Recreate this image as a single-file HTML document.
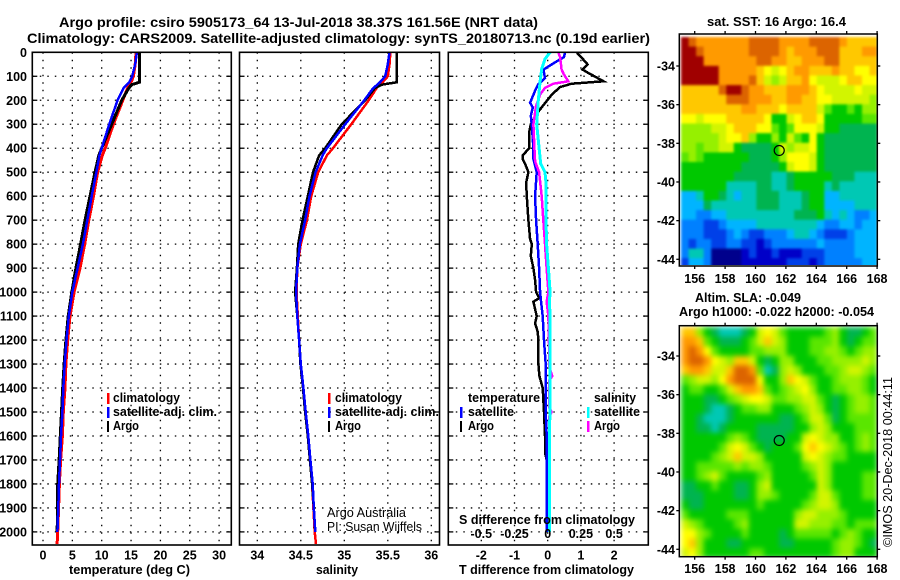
<!DOCTYPE html>
<html lang="en">
<head>
<meta charset="utf-8">
<title>Argo profile chart</title>
<style>
html,body{margin:0;padding:0;background:#fff;width:900px;height:580px;overflow:hidden}
svg{display:block}
text{font-family:"Liberation Sans",sans-serif;font-weight:bold;font-size:12.5px;fill:#000}
.t{font-size:14px}
.thin{font-weight:normal;font-size:12.5px}
</style>
</head>
<body>
<svg id="chart" xmlns="http://www.w3.org/2000/svg" width="900" height="580" viewBox="0 0 900 580">
  <defs>
    <filter id="soft-sst" filterUnits="userSpaceOnUse" x="670" y="25" width="220" height="250" color-interpolation-filters="sRGB">
      <feGaussianBlur stdDeviation="1.2" edgeMode="duplicate"/>
    </filter>
    <filter id="soft-sla" filterUnits="userSpaceOnUse" x="670" y="315" width="220" height="250" color-interpolation-filters="sRGB">
      <feGaussianBlur stdDeviation="2.6" edgeMode="duplicate"/>
    </filter>
    <clipPath id="clip-sst"><rect x="680" y="35" width="197" height="230"/></clipPath>
    <clipPath id="clip-sla"><rect x="680" y="326.5" width="197" height="229.5"/></clipPath>
  </defs>
  <rect x="0" y="0" width="900" height="580" fill="#fff"/>
  <text class="t" x="59" y="27" textLength="479" lengthAdjust="spacingAndGlyphs">Argo profile: csiro 5905173_64 13-Jul-2018 38.37S 161.56E (NRT data)</text>
  <text class="t" x="27" y="43" textLength="623" lengthAdjust="spacingAndGlyphs">Climatology: CARS2009. Satellite-adjusted climatology: synTS_20180713.nc (0.19d earlier)</text>

  <g id="layer-maps"></g>
  <g id="layer-panels"></g>

  <text x="69" y="574" textLength="121" lengthAdjust="spacingAndGlyphs">temperature (deg C)</text>
  <text x="316" y="574" textLength="42" lengthAdjust="spacingAndGlyphs">salinity</text>
  <text x="459" y="574" textLength="175" lengthAdjust="spacingAndGlyphs">T difference from climatology</text>
  <text x="459" y="524" textLength="176" lengthAdjust="spacingAndGlyphs">S difference from climatology</text>

  <g>
    <rect x="107" y="393" width="2.5" height="11" fill="#ff0000"/>
    <text x="113" y="402" textLength="67" lengthAdjust="spacingAndGlyphs">climatology</text>
    <rect x="107" y="407" width="2.5" height="11" fill="#0000ff"/>
    <text x="113" y="416" textLength="104" lengthAdjust="spacingAndGlyphs">satellite-adj. clim.</text>
    <rect x="107" y="421" width="2" height="11" fill="#000"/>
    <text x="113" y="430" textLength="26" lengthAdjust="spacingAndGlyphs">Argo</text>
  </g>
  <g>
    <rect x="328" y="393" width="2.5" height="11" fill="#ff0000"/>
    <text x="335" y="402" textLength="67" lengthAdjust="spacingAndGlyphs">climatology</text>
    <rect x="328" y="407" width="2.5" height="11" fill="#0000ff"/>
    <text x="335" y="416" textLength="104" lengthAdjust="spacingAndGlyphs">satellite-adj. clim.</text>
    <rect x="328" y="421" width="2" height="11" fill="#000"/>
    <text x="335" y="430" textLength="26" lengthAdjust="spacingAndGlyphs">Argo</text>
  </g>
  <text class="thin" x="327" y="517" textLength="79" lengthAdjust="spacingAndGlyphs">Argo Australia</text>
  <text class="thin" x="327" y="531" textLength="95" lengthAdjust="spacingAndGlyphs">PI: Susan Wijffels</text>
  <g>
    <text x="468" y="402" textLength="72" lengthAdjust="spacingAndGlyphs">temperature</text>
    <rect x="460" y="407" width="2.5" height="11" fill="#0000ff"/>
    <text x="468" y="416" textLength="46" lengthAdjust="spacingAndGlyphs">satellite</text>
    <rect x="460" y="421" width="2" height="11" fill="#000"/>
    <text x="468" y="430" textLength="26" lengthAdjust="spacingAndGlyphs">Argo</text>
    <text x="594" y="402" textLength="42" lengthAdjust="spacingAndGlyphs">salinity</text>
    <rect x="587" y="407" width="2.5" height="11" fill="#00ffff"/>
    <text x="594" y="416" textLength="46" lengthAdjust="spacingAndGlyphs">satellite</text>
    <rect x="587" y="421" width="2.5" height="11" fill="#ff00ff"/>
    <text x="594" y="430" textLength="26" lengthAdjust="spacingAndGlyphs">Argo</text>
  </g>

  <text x="707" y="26" textLength="139" lengthAdjust="spacingAndGlyphs">sat. SST: 16 Argo: 16.4</text>
  <text x="695" y="302" textLength="106" lengthAdjust="spacingAndGlyphs">Altim. SLA: -0.049</text>
  <text x="679" y="316" textLength="195" lengthAdjust="spacingAndGlyphs">Argo h1000: -0.022 h2000: -0.054</text>
  <text class="thin" transform="translate(892,547) rotate(-90)" x="0" y="0" textLength="170" lengthAdjust="spacingAndGlyphs">©IMOS 20-Dec-2018 00:44:11</text>
</svg>

<script>
/* ---------- profile data ---------- */
var depthLevels = [0,50,100,125,135,150,200,300,400,430,500,600,700,800,900,1000,1100,1200,1300,1400,1500,1600,1700,1800,1900,2000,2050];
var tempClimatology = [15.85,15.7,15.4,15.0,14.8,14.4,13.6,12,10.6,10.1,9.3,8.6,7.8,7.1,6.3,5.3,4.6,4.2,3.9,3.75,3.45,3.3,3.0,2.8,2.65,2.5,2.4];
var tempSatellite = [16.0,15.7,15.2,14.7,14.3,13.7,12.7,11.3,10,9.6,9.1,8.3,7.55,6.8,5.9,5.0,4.4,4.0,3.7,3.46,3.3,3.07,2.9,2.73,2.6,2.45];
var tempArgo = [16.4,16.4,16.4,16.4,15.1,14.6,13.4,11.7,10.0,9.5,8.86,8.0,7.15,6.4,5.6,4.9,4.3,3.9,3.6,3.35,3.15,2.95,2.75,2.5,2.5,2.4];
var salClimatology = [35.53,35.52,35.5,35.44,35.4,35.37,35.28,35.08,34.87,34.8,34.7,34.62,34.57,34.5,34.46,34.45,34.465,34.48,34.5,34.525,34.55,34.58,34.605,34.63,34.645,34.66,34.675];
var salSatellite = [35.52,35.5,35.47,35.41,35.38,35.33,35.23,35.01,34.8,34.75,34.67,34.6,34.55,34.49,34.46,34.445,34.46,34.48,34.5,34.53,34.556,34.586,34.61,34.637,34.65,34.667];
var salArgo = [35.6,35.6,35.6,35.6,35.43,35.35,35.24,34.97,34.78,34.71,34.64,34.58,34.52,34.47,34.455,34.435,34.46,34.48,34.495,34.525,34.55,34.58,34.605,34.63,34.65,34.665];

var diffTArgoDepth = [0,14,50,72,86,121,131,145,177,212,247,283,300,335,400,430,445,465,500,545,600,700,780,800,850,900,950,1000,1025,1040,1100,1130,1165,1200,1300,1350,1400,1500,1600,1670,1730,2000];
var diffTArgo = [0.87,0.97,1.2,1.05,1.22,1.68,0.72,0.37,0.12,-0.08,-0.28,-0.43,-0.51,-0.56,-0.55,-0.76,-0.76,-0.68,-0.58,-0.65,-0.63,-0.58,-0.53,-0.48,-0.51,-0.43,-0.38,-0.35,-0.25,-0.43,-0.33,-0.38,-0.3,-0.28,-0.28,-0.25,-0.15,-0.11,-0.08,-0.08,0.02,0];
var diffTSatDepth = [0,20,42,72,107,133,160,210,230,265,300,400,445,500,600,700,800,900,1000,1040,1100,1200,1300,1400,1500,1600,2000];
var diffTSat = [0.52,0.49,0.22,-0.13,-0.08,-0.28,-0.38,-0.53,-0.45,-0.51,-0.48,-0.43,-0.43,-0.33,-0.38,-0.35,-0.3,-0.26,-0.23,-0.2,-0.15,-0.11,-0.06,-0.05,-0.06,-0.03,-0.03];
var diffSArgoDepth = [0,20,72,93,121,131,148,177,225,300,400,455,500,600,700,800,900,1000,1040,1100,1215,1310,1350,1370,1480,1500,1520,2000];
var diffSArgo = [0.08,0.093,0.105,0.123,0.155,0.043,-0.02,-0.058,-0.088,-0.108,-0.1,-0.095,-0.065,-0.045,-0.033,-0.02,-0.008,0.005,-0.008,0.005,0.01,0.01,0.035,0.01,0.01,0.03,0.01,0.01];
var diffSSatDepth = [0,28,70,125,195,300,400,465,500,545,700,800,900,1000,1040,1100,2000];
var diffSSat = [0.018,-0.02,-0.045,-0.058,-0.07,-0.083,-0.065,-0.053,-0.02,-0.013,-0.013,-0.008,0.005,0.018,0.013,0.018,0.013];

/* ---------- tick data ---------- */
var depthTicks = [0,100,200,300,400,500,600,700,800,900,1000,1100,1200,1300,1400,1500,1600,1700,1800,1900,2000];
var tempTicks = [0,5,10,15,20,25,30];
var salTicks = [34,34.5,35,35.5,36];
var diffTTicks = [-2,-1,0,1,2];
var diffSTicks = [-0.5,-0.25,0,0.25,0.5];
var lonTicks = [156,158,160,162,164,166,168];
var latTicks = [-34,-36,-38,-40,-42,-44];

/* ---------- map data (colour level per cell, north to south) ---------- */
var argoLon = 161.56;
var argoLat = -38.37;
var sstGrid = [
[15,14,13,13,13,13,13,13,13,14,14,14,14,13,13,13,13,14,14,14,14,13,12,12,12,12],
[15,15,14,13,13,13,13,13,13,14,14,14,14,13,12,13,13,13,14,14,14,12,12,12,13,13],
[15,15,15,13,13,13,13,13,13,13,14,14,13,13,12,12,13,13,13,14,14,12,12,12,12,12],
[15,15,15,15,15,13,13,13,13,13,12,11,10,11,12,13,13,12,12,12,13,12,12,11,11,12],
[15,15,15,15,15,13,13,13,13,14,12,10,9,10,12,12,13,11,10,10,10,11,12,12,11,11],
[12,12,12,12,12,14,15,15,14,13,13,12,12,12,13,13,13,12,11,10,10,10,10,11,10,10],
[12,12,12,12,12,12,14,14,14,13,13,13,12,12,13,13,12,12,11,11,10,10,10,10,10,9],
[12,12,12,12,12,12,12,12,13,13,12,12,12,11,12,12,12,12,10,8,7,7,8,7,9,9],
[11,11,10,11,11,11,12,12,12,12,12,11,7,7,10,11,12,12,11,7,7,7,7,7,8,8],
[9,9,9,9,10,10,11,12,12,12,11,11,8,7,8,11,11,11,10,7,7,6,6,6,6,6],
[9,9,9,9,9,10,11,11,12,9,7,7,9,7,10,8,7,11,7,6,6,6,6,6,6,6],
[9,9,8,9,9,10,10,7,6,6,6,6,7,10,9,10,10,11,7,6,6,6,6,6,6,6],
[8,9,8,7,7,7,7,7,7,6,6,6,7,9,11,11,11,10,7,6,6,6,6,6,6,6],
[7,7,7,7,7,7,7,7,6,6,6,6,6,7,10,11,11,10,7,6,6,6,6,6,6,6],
[7,7,7,7,7,7,7,6,6,6,6,6,5,5,6,7,7,7,7,7,6,6,6,5,5,5],
[7,7,7,7,7,7,5,5,5,5,6,6,5,5,6,7,7,7,7,5,6,5,5,5,5,5],
[4,4,5,7,7,6,5,4,5,5,6,6,6,5,5,5,6,7,7,4,4,5,5,5,5,5],
[4,4,4,6,5,5,5,5,5,5,6,6,6,5,5,5,6,7,7,4,4,4,4,5,5,5],
[4,4,3,3,4,4,5,5,5,5,5,5,5,5,5,6,6,6,7,5,4,5,4,3,3,4],
[3,3,3,2,2,3,4,4,4,4,5,5,5,5,5,5,5,5,4,3,3,4,4,3,4,4],
[3,3,3,2,2,2,3,4,3,2,2,3,3,3,4,5,5,4,3,2,2,2,3,4,4,4],
[3,2,3,3,2,2,3,3,2,2,1,2,3,3,3,3,3,3,4,3,3,3,3,4,4,4],
[3,5,5,3,0,0,0,0,1,2,1,1,2,1,1,1,2,2,2,3,3,3,3,4,4,4],
[2,4,4,3,0,0,0,0,1,1,1,1,1,1,2,2,2,1,2,3,3,3,3,3,4,4]
];
var slaGrid = [
[12,12,9,7,6,5,5,5,6,7,10,11,10,8,7,7,7,7,7,8,9,7,6,6,7,8],
[13,13,12,8,7,6,6,6,7,8,10,12,10,9,7,7,7,8,8,8,9,7,6,7,8,8],
[13,14,13,11,8,7,7,7,7,8,8,9,9,9,7,7,7,8,8,9,9,8,7,8,9,9],
[13,14,14,13,11,10,9,12,12,10,7,6,7,9,9,7,7,7,8,8,9,9,9,9,10,9],
[12,13,13,12,10,10,12,14,14,13,8,5,6,9,10,9,7,7,7,8,8,9,10,10,9,8],
[8,9,10,10,9,11,13,14,14,14,11,7,7,9,12,11,10,8,7,7,8,9,9,9,8,7],
[7,8,8,7,7,8,10,12,13,13,12,8,7,8,9,10,11,9,7,7,8,8,9,9,8,7],
[7,7,7,6,6,7,8,9,10,11,11,10,8,8,9,9,10,10,8,7,6,7,8,9,9,8],
[7,7,7,6,5,5,6,7,8,8,9,9,7,7,7,8,9,10,9,7,6,7,8,9,9,8],
[7,7,6,5,5,5,6,7,7,7,7,7,7,6,6,7,8,10,10,8,6,7,8,8,8,8],
[7,7,6,6,5,6,7,7,7,7,6,6,6,6,6,7,7,9,10,9,7,7,7,8,8,8],
[7,7,7,7,7,7,8,9,8,7,6,6,6,6,7,7,10,11,10,9,9,7,7,8,9,8],
[7,7,7,7,7,8,10,11,10,8,7,6,7,7,7,8,11,12,11,10,9,8,7,8,9,8],
[7,7,7,7,8,9,10,12,10,10,9,7,7,7,7,7,10,11,10,9,8,8,7,7,7,7],
[7,7,8,8,8,8,8,9,8,9,9,8,7,7,7,7,8,9,10,9,7,7,7,7,7,7],
[7,7,8,9,10,8,7,7,7,7,8,9,7,7,7,7,7,8,10,9,7,7,7,7,8,8],
[6,6,7,7,8,7,7,6,6,7,9,10,7,7,7,7,7,7,10,9,7,7,7,7,8,8],
[6,6,6,7,7,7,7,6,6,7,9,9,8,7,7,7,7,8,10,10,8,7,7,7,8,8],
[7,6,6,7,7,7,7,7,7,7,8,7,7,7,7,7,8,9,10,10,9,7,7,7,7,7],
[8,7,7,7,7,7,8,8,8,7,7,7,7,7,7,9,10,10,9,9,9,8,7,7,7,7],
[10,9,8,7,7,7,7,8,9,7,7,7,7,7,7,10,10,9,9,9,8,8,7,8,8,8],
[11,11,9,8,7,7,7,7,8,7,7,7,7,6,7,8,8,8,8,8,7,8,9,8,7,7],
[11,12,9,7,7,7,6,6,7,7,7,7,7,6,6,7,7,7,7,7,8,9,9,8,7,6],
[10,11,9,7,7,7,7,7,7,8,8,7,7,7,7,7,7,7,7,7,8,9,9,7,7,7]
];
var levelColors = ["#00008c","#0000c8","#0040e8","#0080ff","#00b4ff","#00c8b4","#00b450","#00c800","#5ae600","#96f000","#d2f500","#ffff00","#ffc800","#ff9a00","#dc6400","#a00000"];

/* ---------- axis functions ---------- */
function yDepth(d){ return 52.3 + d * 0.2398; }
function xTemp(t){ return 43 + t * 5.87; }
function xSal(s){ return 257.3 + (s - 34) * 87; }
function xDiffT(t){ return 547.7 + t * 33.2; }
function xDiffS(s){ return 547.7 + s * 132.8; }
function xLon(lon){ return 694.7 + (lon - 156) * 15.2; }
function yLatSst(lat){ return 66 + (-34 - lat) * 19.33; }
function yLatSla(lat){ return 356 + (-34 - lat) * 19.33; }

var NS = "http://www.w3.org/2000/svg";
function mk(parent, tag, props){
  var el = document.createElementNS(NS, tag);
  for (var k in props) { el.setAttribute(k, props[k]); }
  parent.appendChild(el);
  return el;
}
function label(parent, x, y, str, anchor){
  var el = mk(parent, "text", {x: x, y: y, "text-anchor": anchor});
  el.textContent = str;
  return el;
}

/* ---------- profile panels ---------- */
var panelLayer = document.getElementById("layer-panels");

function drawPanel(name, left, right, xTickVals, xFn){
  var g = mk(panelLayer, "g", {});
  
  
  var top = 52.3, bottom = 545;
  depthTicks.forEach(function(d){
    var y = yDepth(d);
    var gl = mk(g, "line", {x1: left, x2: right, y1: y, y2: y, stroke: "#000", "stroke-width": 1.3, "stroke-dasharray": "1.5 6"});
    
    
    var tl = mk(g, "line", {x1: left, x2: left + 5, y1: y, y2: y, stroke: "#000", "stroke-width": 1.3});
    
    
    var tr = mk(g, "line", {x1: right - 5, x2: right, y1: y, y2: y, stroke: "#000", "stroke-width": 1.3});
    
    
  });
  xTickVals.forEach(function(v){
    var x = xFn(v);
    var gl = mk(g, "line", {x1: x, x2: x, y1: top, y2: bottom, stroke: "#000", "stroke-width": 1.3, "stroke-dasharray": "1.5 6"});
    
    
  });
  return g;
}
function drawSeries(g, name, depths, values, xFn, color, width){
  var pts = values.map(function(v, i){ return xFn(v).toFixed(1) + "," + yDepth(depths[i]).toFixed(1); }).join(" ");
  var p = mk(g, "polyline", {points: pts, fill: "none", stroke: color, "stroke-width": width, "stroke-linejoin": "miter", "shape-rendering": "crispEdges"});
  
  
}
function drawFrame(g, left, right){
  var f = mk(g, "rect", {x: left, y: 52.3, width: right - left, height: 492.7, fill: "none", stroke: "#000", "stroke-width": 1.6});
  
  
}

var tempPanel = drawPanel("temperature", 32.3, 231.3, tempTicks, xTemp);
drawSeries(tempPanel, "temperature-climatology-line", depthLevels, tempClimatology, xTemp, "#ff0000", 3);
drawSeries(tempPanel, "temperature-argo-line", depthLevels, tempArgo, xTemp, "#000000", 3);
drawSeries(tempPanel, "temperature-satellite-line", depthLevels, tempSatellite, xTemp, "#0000ff", 2.5);
drawFrame(tempPanel, 32.3, 231.3);

var salPanel = drawPanel("salinity", 239.5, 439.5, salTicks, xSal);
drawSeries(salPanel, "salinity-climatology-line", depthLevels, salClimatology, xSal, "#ff0000", 2.5);
drawSeries(salPanel, "salinity-argo-line", depthLevels, salArgo, xSal, "#000000", 2.5);
drawSeries(salPanel, "salinity-satellite-line", depthLevels, salSatellite, xSal, "#0000ff", 2.5);
drawFrame(salPanel, 239.5, 439.5);

var diffPanel = drawPanel("difference", 448.3, 648.3, diffTTicks, xDiffT);
drawSeries(diffPanel, "t-diff-argo-line", diffTArgoDepth, diffTArgo, xDiffT, "#000000", 2.5);
drawSeries(diffPanel, "t-diff-satellite-line", diffTSatDepth, diffTSat, xDiffT, "#0000ff", 2.5);
drawSeries(diffPanel, "s-diff-argo-line", diffSArgoDepth, diffSArgo, xDiffS, "#ff00ff", 2.5);
drawSeries(diffPanel, "s-diff-satellite-line", diffSSatDepth, diffSSat, xDiffS, "#00ffff", 3);
drawFrame(diffPanel, 448.3, 648.3);

depthTicks.forEach(function(d){
  var t = label(panelLayer, 27, yDepth(d) + 4.5, String(d), "end");
  
  
});
tempTicks.forEach(function(v){
  var t = label(panelLayer, xTemp(v), 559.5, String(v), "middle");
  
  
});
salTicks.forEach(function(v){
  var t = label(panelLayer, xSal(v), 559.5, String(v), "middle");
  
  
});
diffTTicks.forEach(function(v){
  var t = label(panelLayer, xDiffT(v), 559.5, String(v), "middle");
  
  
});
diffSTicks.forEach(function(v){
  var t = label(panelLayer, xDiffS(v), 538, String(v), "middle");
  
  
});

/* ---------- maps ---------- */
var mapLayer = document.getElementById("layer-maps");
var lonStart = 155.1, lonStep = 0.496;

function drawMap(name, grid, yLat, latTop, latStep, frameTop, frameBottom, xLabelY, filterId, clipId){
  var g = mk(mapLayer, "g", {});
  
  
  var clipWrap = mk(g, "g", {"clip-path": "url(#" + clipId + ")"});
  
  
  var image = mk(clipWrap, "g", {filter: "url(#" + filterId + ")"});
  
  
  grid.forEach(function(row, r){
    row.forEach(function(level, c){
      var x0 = xLon(lonStart + c * lonStep), x1 = xLon(lonStart + (c + 1) * lonStep);
      var y0 = yLat(latTop - r * latStep), y1 = yLat(latTop - (r + 1) * latStep);
      var cell = mk(image, "rect", {x: x0.toFixed(2), y: y0.toFixed(2), width: (x1 - x0 + 0.4).toFixed(2), height: (y1 - y0 + 0.4).toFixed(2), fill: levelColors[level]});
      
      
    });
  });
  var frame = mk(g, "rect", {x: 679.3, y: frameTop, width: 198, height: frameBottom - frameTop, fill: "none", stroke: "#000", "stroke-width": 1.5});
  
  
  lonTicks.forEach(function(lon){
    var x = xLon(lon);
    var top = mk(g, "line", {x1: x, x2: x, y1: frameTop - 3, y2: frameTop, stroke: "#000", "stroke-width": 1.3});
    
    
    var bot = mk(g, "line", {x1: x, x2: x, y1: frameBottom, y2: frameBottom + 3, stroke: "#000", "stroke-width": 1.3});
    
    
    var t = label(g, x, xLabelY, String(lon), "middle");
    
    
  });
  latTicks.forEach(function(lat){
    var y = yLat(lat);
    var lt = mk(g, "line", {x1: 676.3, x2: 679.3, y1: y, y2: y, stroke: "#000", "stroke-width": 1.3});
    
    
    var rt = mk(g, "line", {x1: 877.3, x2: 880.3, y1: y, y2: y, stroke: "#000", "stroke-width": 1.3});
    
    
    var t = label(g, 675, y + 4.5, String(lat), "end");
    
    
  });
  var marker = mk(g, "circle", {cx: xLon(argoLon), cy: yLat(argoLat), r: 5, fill: "none", stroke: "#000", "stroke-width": 1.2});
  
  
}
drawMap("sst-map", sstGrid, yLatSst, -32.5, 0.4975, 34, 266, 283, "soft-sst", "clip-sst");
drawMap("sla-map", slaGrid, yLatSla, -32.5, 0.4975, 325.7, 556.7, 573, "soft-sla", "clip-sla");
</script>
</body>
</html>
